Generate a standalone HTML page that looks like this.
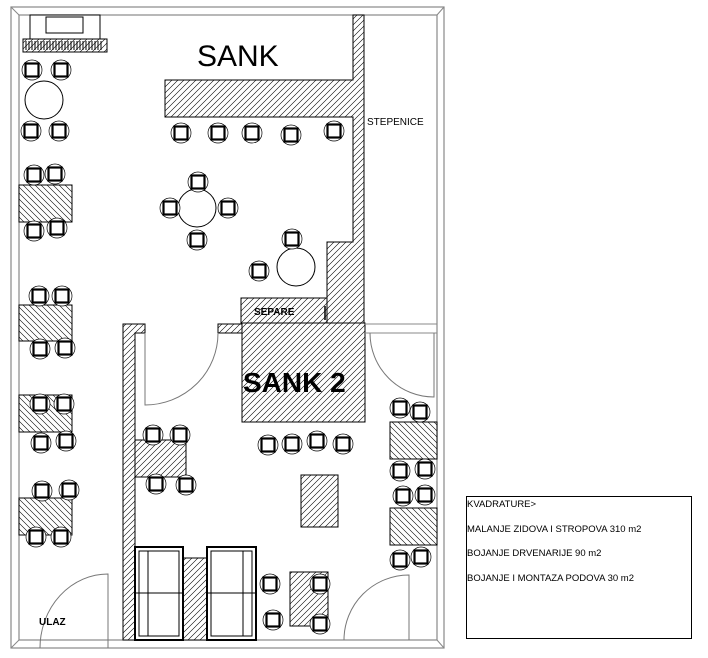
<!DOCTYPE html>
<html><head><meta charset="utf-8"><style>
html,body{margin:0;padding:0;background:#fff;}
svg{display:block;}
text{font-family:"Liberation Sans",sans-serif;fill:#000;}
</style></head><body>
<svg width="708" height="658" viewBox="0 0 708 658" xmlns="http://www.w3.org/2000/svg">
<defs>
<pattern id="hf" width="6" height="6" patternUnits="userSpaceOnUse">
<rect width="6" height="6" fill="#fff"/><path d="M-1,7 L7,-1 M-1,1 L1,-1 M5,7 L7,5" stroke="#000" stroke-width="0.6"/></pattern>
<pattern id="hb" width="6" height="6" patternUnits="userSpaceOnUse">
<rect width="6" height="6" fill="#fff"/><path d="M-1,-1 L7,7 M5,-1 L7,1 M-1,5 L1,7" stroke="#000" stroke-width="0.6"/></pattern>
<g id="ch"><circle r="10" fill="#fff" stroke="#000" stroke-width="0.7"/><rect x="-6.5" y="-6.5" width="13" height="13" fill="none" stroke="#000" stroke-width="2.2"/></g>
</defs>
<!-- outer walls -->
<rect x="11" y="7" width="433" height="641" fill="none" stroke="#888" stroke-width="1.2"/>
<rect x="19" y="15" width="418" height="625" fill="none" stroke="#888" stroke-width="1.2"/>
<path d="M11,7 L19,15 M444,7 L437,15 M11,648 L19,640 M444,648 L437,640" stroke="#888"/>
<!-- top-left device -->
<rect x="30" y="15" width="70" height="24" fill="#fff" stroke="#000"/>
<rect x="46" y="17" width="37" height="16" fill="none" stroke="#000"/>
<rect x="23" y="39" width="84" height="13" fill="url(#hf)" stroke="#000"/>
<path d="M26,41 V50 M29,41 V50 M32,41 V50 M35,41 V50 M38,41 V50 M41,41 V50 M44,41 V50 M47,41 V50 M50,41 V50 M53,41 V50 M56,41 V50 M59,41 V50 M62,41 V50 M65,41 V50 M68,41 V50 M71,41 V50 M74,41 V50 M77,41 V50 M80,41 V50 M83,41 V50 M86,41 V50 M89,41 V50 M92,41 V50 M95,41 V50 M98,41 V50 M101,41 V50" stroke="#000" stroke-width="1"/>
<text x="197" y="66" font-size="30">SANK</text>
<!-- bar counter + wall -->
<path d="M165,80 H353 V15 H364 V323 H241 V298 H327 V242 H353 V117 H165 Z" fill="url(#hf)" stroke="#000"/>
<path d="M327,298 V325" stroke="#000"/>
<text x="367" y="125" font-size="10">STEPENICE</text>
<text x="254" y="315" font-size="10" font-weight="bold" fill="#222">SEPARE</text>
<line x1="325" y1="306" x2="325" y2="320" stroke="#000" stroke-width="1.5"/>
<!-- lower room walls -->
<path d="M123,324 H145 V333 H135 V640 H123 Z" fill="url(#hf)" stroke="#000"/>
<path d="M218,324 H242 V333 H218 Z" fill="url(#hf)" stroke="#000"/>
<rect x="242" y="323" width="123" height="99" fill="url(#hf)" stroke="#000"/>
<text x="243" y="392" font-size="28" font-weight="bold">SANK 2</text>
<path d="M135,440 H186 V477 H135 Z" fill="url(#hf)" stroke="#000"/>
<path d="M365,324 H437 M365,333 H437" stroke="#888"/>
<!-- doors -->
<path d="M145,333 V405 A73,72 0 0 0 218,333" fill="none" stroke="#777"/>
<path d="M434,333 V397 A64,64 0 0 1 370,333" fill="none" stroke="#777"/>
<path d="M409,640 V575 A65,65 0 0 0 344,640" fill="none" stroke="#777"/>
<path d="M108,648 V574 A68,74 0 0 0 40,648" fill="none" stroke="#777"/>
<text x="39" y="625" font-size="10" font-weight="bold" fill="#222">ULAZ</text>
<!-- left tables -->
<rect x="19" y="185" width="53" height="37" fill="url(#hb)" stroke="#000"/>
<rect x="19" y="305" width="53" height="36" fill="url(#hb)" stroke="#000"/>
<rect x="19" y="395" width="53" height="37" fill="url(#hb)" stroke="#000"/>
<rect x="19" y="498" width="53" height="37" fill="url(#hb)" stroke="#000"/>
<!-- right tables -->
<rect x="390" y="422" width="47" height="37" fill="url(#hb)" stroke="#000"/>
<rect x="390" y="508" width="47" height="37" fill="url(#hb)" stroke="#000"/>
<rect x="301" y="475" width="37" height="52" fill="url(#hf)" stroke="#000"/>
<rect x="290" y="572" width="38" height="54" fill="url(#hf)" stroke="#000"/>
<!-- sofas -->
<rect x="170" y="558" width="37" height="82" fill="url(#hf)" stroke="#000"/>
<g fill="#fff" stroke="#000">
<rect x="135" y="547" width="48" height="93" stroke-width="2"/>
<rect x="139" y="551" width="40" height="85"/>
<line x1="135" y1="593" x2="183" y2="593"/>
<line x1="148" y1="551" x2="148" y2="636"/>
<rect x="207" y="547" width="49" height="93" stroke-width="2"/>
<rect x="211" y="551" width="41" height="85"/>
<line x1="207" y1="593" x2="256" y2="593"/>
<line x1="243" y1="551" x2="243" y2="636"/>
</g>
<!-- round tables -->
<circle cx="44" cy="100" r="19" fill="#fff" stroke="#000"/>
<circle cx="197" cy="208" r="19" fill="#fff" stroke="#000"/>
<circle cx="296" cy="267" r="19" fill="#fff" stroke="#000"/>
<!-- chairs -->
<use href="#ch" x="32" y="70"/><use href="#ch" x="61" y="70"/>
<use href="#ch" x="31" y="131"/><use href="#ch" x="59" y="131"/>
<use href="#ch" x="34" y="175"/><use href="#ch" x="55" y="174"/>
<use href="#ch" x="34" y="231"/><use href="#ch" x="57" y="228"/>
<use href="#ch" x="181" y="133"/><use href="#ch" x="218" y="133"/><use href="#ch" x="252" y="133"/><use href="#ch" x="291" y="135"/><use href="#ch" x="334" y="131"/>
<use href="#ch" x="198" y="182"/><use href="#ch" x="170" y="208"/><use href="#ch" x="228" y="208"/><use href="#ch" x="197" y="240"/>
<use href="#ch" x="292" y="239"/><use href="#ch" x="259" y="271"/>
<use href="#ch" x="39" y="296"/><use href="#ch" x="62" y="296"/>
<use href="#ch" x="40" y="349"/><use href="#ch" x="65" y="348"/>
<use href="#ch" x="40" y="404"/><use href="#ch" x="64" y="404"/>
<use href="#ch" x="41" y="443"/><use href="#ch" x="66" y="441"/>
<use href="#ch" x="42" y="491"/><use href="#ch" x="69" y="490"/>
<use href="#ch" x="36" y="537"/><use href="#ch" x="61" y="537"/>
<use href="#ch" x="153" y="435"/><use href="#ch" x="180" y="435"/>
<use href="#ch" x="156" y="484"/><use href="#ch" x="186" y="485"/>
<use href="#ch" x="268" y="445"/><use href="#ch" x="292" y="444"/><use href="#ch" x="317" y="441"/><use href="#ch" x="343" y="444"/>
<use href="#ch" x="400" y="408"/><use href="#ch" x="420" y="412"/>
<use href="#ch" x="400" y="471"/><use href="#ch" x="425" y="469"/>
<use href="#ch" x="403" y="496"/><use href="#ch" x="425" y="495"/>
<use href="#ch" x="400" y="560"/><use href="#ch" x="421" y="557"/>
<use href="#ch" x="270" y="584"/><use href="#ch" x="320" y="584"/>
<use href="#ch" x="273" y="620"/><use href="#ch" x="320" y="624"/>
<!-- info box -->
<rect x="466.5" y="496.5" width="225" height="142" fill="#fff" stroke="#000"/>
<text x="467" y="507" font-size="9.5">KVADRATURE&gt;</text>
<text x="467" y="532" font-size="9.5">MALANJE ZIDOVA I STROPOVA 310 m2</text>
<text x="467" y="556" font-size="9.5">BOJANJE DRVENARIJE 90 m2</text>
<text x="467" y="581" font-size="9.5">BOJANJE I MONTAZA PODOVA 30 m2</text>
</svg>
</body></html>
